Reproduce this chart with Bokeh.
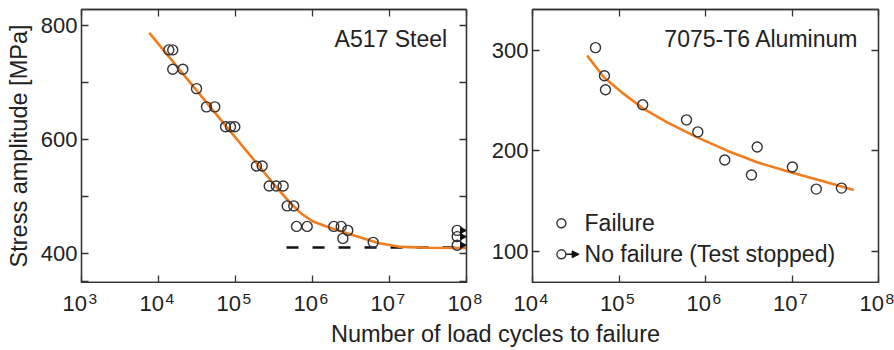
import math
from bokeh.plotting import figure
from bokeh.models import (LogAxis, LinearAxis, FixedTicker, CustomJSTickFormatter,
                          Arrow, NormalHead, Label, ColumnDataSource, Range1d)
from bokeh.layouts import row, column
from bokeh.embed import file_html
from bokeh.resources import INLINE

# ---------------- data ----------------
steel_fail_n = [13600, 15300, 15300, 20700, 31200, 42000, 53800, 74200, 86100, 98000,
                187000, 222000, 274000, 338000, 416000, 469000, 571000, 620000, 853000,
                1.89e6, 2.36e6, 2.87e6, 2.48e6, 6.14e6]
steel_fail_s = [757, 757, 723, 723, 689, 657, 657, 622, 622, 622,
                553, 553, 518, 518, 518, 483, 483, 447, 447,
                447, 447, 440, 426, 419]
steel_runout_n = [7.57e7, 7.57e7, 7.57e7]
steel_runout_s = [440, 429, 414]
steel_fit_n = [7600, 31600, 1.0e5, 3.16e5, 5.0e5, 7.1e5, 1.0e6, 1.58e6, 3.16e6, 7.1e6, 1.41e7, 3.16e7, 1.0e8]
steel_fit_s = [787, 685, 603, 521, 490, 470, 456, 446, 433, 418, 411, 409.5, 409]
steel_limit_n = [4.6e5, 1.0e8]
steel_limit_s = [410, 410]

al_fail_n = [53500, 67900, 69800, 188000, 603000, 815000, 1.67e6, 3.40e6, 3.96e6, 1.01e7, 1.91e7, 3.73e7]
al_fail_s = [303, 275, 261, 246, 231, 219, 191, 176, 204, 184, 162, 163]
al_fit_n = [42900, 66700, 113500, 193600, 360600, 802000, 1.78e6, 3.96e6, 9.62e6, 2.13e7, 5.18e7]
al_fit_s = [295, 273.4, 256.9, 241.9, 228.5, 213.6, 200.3, 188.7, 178.7, 170.5, 161.2]

steel_ticks_x = [1e3, 1e4, 1e5, 1e6, 1e7, 1e8]
steel_ticks_y = [400, 600, 800]
steel_minor_y = [350, 500, 700]
al_ticks_x = [1e4, 1e5, 1e6, 1e7, 1e8]
al_ticks_y = [100, 200, 300]

legend_labels = ["Failure", "No failure (Test stopped)"]
legend_n = [21600, 21600]
legend_s = [128, 97]

titles = ["A517 Steel", "7075-T6 Aluminum"]
y_label = "Stress amplitude [MPa]"
x_label = "Number of load cycles to failure"

# ---------------- style / layout ----------------
FONT = "Liberation Sans"
TXT = "#222222"
FRAME = "#333333"
ORANGE = "#f07c1e"
TICK_FS = "22px"
FIG_H = 283
STRIP_H = 34
XLAB_H = 33
W1, BL1, BR1 = 488, 81, 22
W2, BL2, BR2 = 406, 44, 16

blank_js = "return '';"


def style_axis(ax):
    ax.axis_line_color = FRAME
    ax.axis_line_width = 1.3
    ax.major_tick_line_color = FRAME
    ax.major_tick_line_width = 1.3
    ax.minor_tick_line_color = FRAME
    ax.minor_tick_line_width = 1.3
    ax.major_tick_in = 7
    ax.major_tick_out = 0
    ax.minor_tick_in = 7
    ax.minor_tick_out = 0
    ax.major_label_text_font = FONT
    ax.major_label_text_color = TXT
    ax.major_label_text_font_size = TICK_FS


def make_fig(width, xr, yr, xt, yt, ymin, border_left, border_right):
    p = figure(width=width, height=FIG_H, x_axis_type="log",
               x_range=Range1d(*xr), y_range=Range1d(*yr),
               output_backend="svg", toolbar_location=None,
               min_border_left=border_left, min_border_right=border_right,
               min_border_top=9, min_border_bottom=1)
    p.grid.visible = False
    p.outline_line_color = FRAME
    p.outline_line_width = 1.3
    p.xaxis.ticker = FixedTicker(ticks=xt, minor_ticks=[])
    p.yaxis.ticker = FixedTicker(ticks=yt, minor_ticks=ymin)
    p.xaxis.formatter = CustomJSTickFormatter(code=blank_js)
    p.xaxis.major_label_standoff = 0
    p.yaxis.major_label_standoff = 4
    for ax in p.xaxis + p.yaxis:
        style_axis(ax)
    top = LogAxis(ticker=FixedTicker(ticks=xt, minor_ticks=[]),
                  formatter=CustomJSTickFormatter(code=blank_js))
    style_axis(top)
    top.major_label_standoff = 0
    right = LinearAxis(ticker=FixedTicker(ticks=yt, minor_ticks=ymin),
                       formatter=CustomJSTickFormatter(code=blank_js))
    style_axis(right)
    right.major_label_standoff = 0
    p.add_layout(top, "above")
    p.add_layout(right, "right")
    return p


def make_strip(width, border_left, border_right, xr, xt):
    """Strip under a panel carrying the power-of-ten tick labels, on the same log scale."""
    lo, hi = math.log10(xr[0]), math.log10(xr[1])
    ppd = (width - border_left - border_right) / (hi - lo)
    s = figure(width=width, height=STRIP_H, x_axis_type="log",
               x_range=Range1d(10 ** (lo - border_left / ppd), 10 ** (hi + border_right / ppd)),
               y_range=Range1d(0, STRIP_H), output_backend="svg", toolbar_location=None,
               min_border=0)
    s.axis.visible = False
    s.grid.visible = False
    s.outline_line_color = None
    for t in xt:
        e = int(round(math.log10(t)))
        s.add_layout(Label(x=t, y=14.5, text="10", text_align="right", text_baseline="middle",
                           x_offset=5.5, text_font=FONT, text_font_size=TICK_FS, text_color=TXT))
        s.add_layout(Label(x=t, y=19, text=str(e), text_align="left", text_baseline="middle",
                           x_offset=7, text_font=FONT, text_font_size="15.5px", text_color=TXT))
    return s


# ---------------- left: steel ----------------
steel_xr = (1e3, 1e8)
p1 = make_fig(W1, steel_xr, (348.5, 828), steel_ticks_x, steel_ticks_y, steel_minor_y, BL1, BR1)
p1.yaxis[0].axis_label = y_label
p1.yaxis[0].axis_label_text_font = FONT
p1.yaxis[0].axis_label_text_font_size = "23.5px"
p1.yaxis[0].axis_label_text_font_style = "normal"
p1.yaxis[0].axis_label_text_color = TXT
p1.yaxis[0].axis_label_standoff = 6

p1.line(steel_limit_n, steel_limit_s, line_color="#111111", line_width=2.6, line_dash="12 14")
p1.line(steel_fit_n, steel_fit_s, line_color=ORANGE, line_width=2.6)
p1.scatter(steel_fail_n, steel_fail_s, marker="circle", size=10, fill_color=None,
           line_color=FRAME, line_width=1.4)
p1.scatter(steel_runout_n, steel_runout_s, marker="circle", size=10, fill_color=None,
           line_color=FRAME, line_width=1.4)
run_src = ColumnDataSource(dict(xs=[n * 1.16 for n in steel_runout_n],
                                xe=[steel_xr[1]] * len(steel_runout_n),
                                y=steel_runout_s))
p1.add_layout(Arrow(end=NormalHead(size=6, fill_color="#111111", line_color="#111111", line_width=1),
                    x_start="xs", y_start="y", x_end="xe", y_end="y", source=run_src,
                    line_color="#111111", line_width=1.6))
p1.add_layout(Label(x=5.6e7, y=777, text=titles[0], text_align="right", text_baseline="middle",
                    text_font=FONT, text_font_size="23px", text_color=TXT))
s1 = make_strip(W1, BL1, BR1, steel_xr, steel_ticks_x)

# ---------------- right: aluminum ----------------
al_xr = (1e4, 1e8)
p2 = make_fig(W2, al_xr, (68.9, 341), al_ticks_x, al_ticks_y, [], BL2, BR2)
p2.line(al_fit_n, al_fit_s, line_color=ORANGE, line_width=2.6)
p2.scatter(al_fail_n, al_fail_s, marker="circle", size=10, fill_color=None,
           line_color=FRAME, line_width=1.4)
p2.add_layout(Label(x=5.9e7, y=312, text=titles[1], text_align="right", text_baseline="middle",
                    text_font=FONT, text_font_size="23px", text_color=TXT))

# legend (manual)
p2.scatter(legend_n, legend_s, marker="circle", size=9, fill_color=None,
           line_color=FRAME, line_width=1.4)
leg_src = ColumnDataSource(dict(xs=[legend_n[1] * 1.14], xe=[legend_n[1] * 1.6], y=[legend_s[1]]))
p2.add_layout(Arrow(end=NormalHead(size=7, fill_color="#111111", line_color="#111111", line_width=1),
                    x_start="xs", y_start="y", x_end="xe", y_end="y", source=leg_src,
                    line_color="#111111", line_width=1.6))
for lab, yv in zip(legend_labels, legend_s):
    p2.add_layout(Label(x=legend_n[0] * 1.85, y=yv, text=lab, text_align="left",
                        text_baseline="middle", text_font=FONT, text_font_size="23px",
                        text_color=TXT))
s2 = make_strip(W2, BL2, BR2, al_xr, al_ticks_x)

# ---------------- shared x label ----------------
p3 = figure(width=W1 + W2, height=XLAB_H, x_range=Range1d(0, W1 + W2), y_range=Range1d(0, XLAB_H),
            output_backend="svg", toolbar_location=None, min_border=0)
p3.axis.visible = False
p3.grid.visible = False
p3.outline_line_color = None
p3.add_layout(Label(x=495, y=17, text=x_label, text_align="center", text_baseline="middle",
                    text_font=FONT, text_font_size="23.5px", text_color=TXT))

layout = column(row(p1, p2), row(s1, s2), p3)
open("out.html", "w").write(file_html(layout, INLINE))
